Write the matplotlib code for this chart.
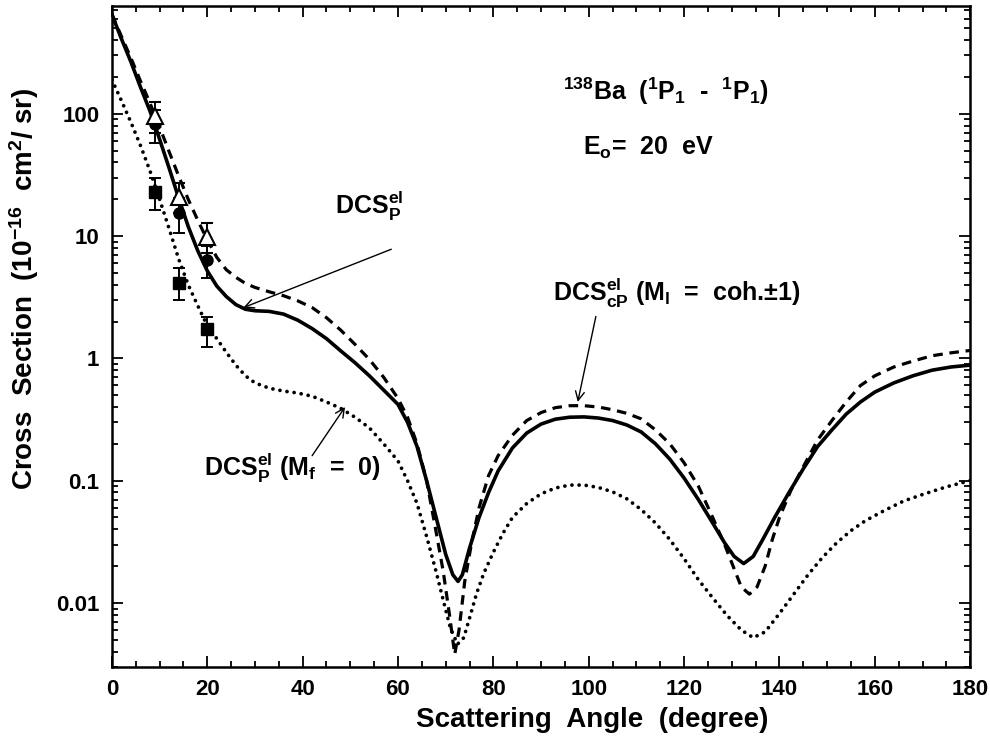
import matplotlib
matplotlib.use('Agg')
import matplotlib.pyplot as plt
from matplotlib.ticker import MultipleLocator, LogLocator, FixedLocator, NullFormatter

plt.rcParams['font.family'] = ['Liberation Sans', 'DejaVu Sans']
plt.rcParams['font.weight'] = 'bold'
plt.rcParams['mathtext.fontset'] = 'custom'
plt.rcParams['mathtext.rm'] = 'Liberation Sans:bold'
plt.rcParams['mathtext.it'] = 'Liberation Sans:bold'
plt.rcParams['mathtext.bf'] = 'Liberation Sans:bold'

# DCS_P^el (solid line)
solid_ang = [0, 2, 4, 6, 8, 10, 12, 14, 16, 18, 20, 22, 24, 26, 28, 30, 33, 36, 39, 42, 45, 48,
             51, 54, 57, 60, 62, 64, 66, 68, 70, 71.5, 72.6, 73.5, 75, 77, 79, 81, 84, 87, 90,
             93, 96, 99, 102, 105, 108, 111, 114, 117, 120, 123, 126, 128.5, 130.5, 132.5,
             134.5, 136.5, 139, 142, 145, 148, 151, 154, 157, 160, 164, 168, 172, 176, 180]
solid_val = [650, 410, 265, 165, 105, 62, 36, 20.5, 12, 7.6, 5.2, 3.9, 3.2, 2.75, 2.52, 2.45,
             2.42, 2.3, 2.05, 1.75, 1.45, 1.15, 0.92, 0.72, 0.55, 0.42, 0.3, 0.19, 0.1, 0.05,
             0.025, 0.017, 0.015, 0.017, 0.028, 0.05, 0.08, 0.12, 0.185, 0.245, 0.29, 0.318,
             0.33, 0.332, 0.325, 0.31, 0.285, 0.25, 0.2, 0.15, 0.105, 0.07, 0.045, 0.031, 0.024,
             0.021, 0.024, 0.033, 0.05, 0.08, 0.125, 0.19, 0.26, 0.35, 0.44, 0.53, 0.63, 0.72,
             0.8, 0.85, 0.88]

# DCS_cP^el (dashed line)
dash_ang = [0, 2, 4, 6, 8, 10, 12, 14, 16, 18, 20, 22, 24, 26, 28, 30, 33, 36, 39, 42, 45, 48,
            51, 54, 57, 60, 62, 64, 66, 68, 69.5, 70.8, 71.9, 72.8, 74, 75.5, 77, 79, 81, 84,
            87, 90, 93, 96, 99, 102, 105, 108, 111, 114, 117, 120, 123, 126, 128.5, 130.5, 132,
            133.7, 135.3, 137, 138.5, 140, 142.5, 145, 148, 151, 154, 157, 160, 164, 168, 172,
            176, 180]
dash_val = [650, 430, 285, 185, 122, 78, 49, 31, 20, 13.5, 9.3, 6.7, 5.3, 4.6, 4.1, 3.8, 3.5,
            3.25, 2.95, 2.6, 2.15, 1.7, 1.3, 0.98, 0.7, 0.47, 0.33, 0.2, 0.1, 0.038, 0.018,
            0.008, 0.0038, 0.006, 0.015, 0.032, 0.06, 0.11, 0.16, 0.235, 0.31, 0.36, 0.395,
            0.41, 0.41, 0.4, 0.38, 0.355, 0.32, 0.26, 0.2, 0.14, 0.09, 0.05, 0.03, 0.019,
            0.0135, 0.0118, 0.0135, 0.02, 0.033, 0.05, 0.085, 0.13, 0.215, 0.31, 0.44, 0.6,
            0.72, 0.85, 0.95, 1.05, 1.11, 1.16]

# DCS_P^el (M_f = 0) (dotted line)
dot_ang = [0, 2, 4, 6, 8, 10, 12, 14, 16, 18, 20, 22, 24, 26, 28, 30, 33, 36, 39, 42, 45, 48,
           51, 54, 57, 60, 62, 64, 66, 68, 69.5, 71, 72.5, 73.8, 75, 76.5, 78, 80, 82, 84, 87,
           90, 93, 96, 99, 102, 105, 108, 111, 114, 117, 120, 123, 126, 129, 132, 134.5, 137,
           140, 143, 146, 149, 152, 155, 158, 162, 166, 170, 175, 180]
dot_val = [190, 128, 85, 55, 34, 20, 11.5, 6.5, 4.0, 2.7, 1.85, 1.45, 1.12, 0.88, 0.72, 0.63,
           0.57, 0.54, 0.52, 0.49, 0.44, 0.39, 0.33, 0.27, 0.2, 0.145, 0.1, 0.065, 0.035, 0.018,
           0.0105, 0.0062, 0.0046, 0.0052, 0.0075, 0.012, 0.0175, 0.026, 0.037, 0.05, 0.065,
           0.078, 0.087, 0.092, 0.092, 0.088, 0.081, 0.071, 0.058, 0.045, 0.033, 0.023, 0.0155,
           0.011, 0.0079, 0.006, 0.0052, 0.0058, 0.0082, 0.0118, 0.017, 0.0235, 0.031, 0.039,
           0.047, 0.057, 0.068, 0.077, 0.089, 0.1]

# measured points
exp_ang = [9, 14, 20]
tri_val = [96, 21, 9.8]
tri_lo = [70, 15.5, 7.3]
tri_hi = [125, 27.2, 12.8]
circ_val = [83, 15.4, 6.4]
circ_lo = [58, 10.6, 4.5]
circ_hi = [108, 20.5, 8.3]
sq_val = [23, 4.1, 1.73]
sq_lo = [16.3, 2.98, 1.23]
sq_hi = [29.8, 5.47, 2.17]

fig = plt.figure(figsize=(9.9, 7.51), dpi=100)
ax = fig.add_axes([0.113, 0.112, 0.867, 0.880])

ax.plot(solid_ang, solid_val, color='black', lw=2.6, solid_joinstyle='round')
ax.plot(dash_ang, dash_val, color='black', lw=2.3, dashes=(3.0, 2.1))
ax.plot(dot_ang, dot_val, color='black', lw=2.7, linestyle=(0, (0.01, 1.9)),
        dash_capstyle='round')

def err(vals, lo, hi):
    return [[v - l for v, l in zip(vals, lo)], [h - v for v, h in zip(vals, hi)]]

ax.errorbar(exp_ang, circ_val, yerr=err(circ_val, circ_lo, circ_hi), fmt='o', color='black',
            ms=8, capsize=4, elinewidth=1.4, capthick=1.4, zorder=5)
ax.errorbar(exp_ang, tri_val, yerr=err(tri_val, tri_lo, tri_hi), fmt='^', color='black',
            mfc='white', mec='black', mew=1.5, ms=11, capsize=4, elinewidth=1.4,
            capthick=1.4, zorder=6)
ax.errorbar(exp_ang, sq_val, yerr=err(sq_val, sq_lo, sq_hi), fmt='s', color='black',
            ms=8, capsize=4, elinewidth=1.4, capthick=1.4, zorder=5)

ax.set_yscale('log')
ax.set_xlim(0, 180)
ax.set_ylim(0.003, 760)
ax.xaxis.set_major_locator(MultipleLocator(20))
ax.xaxis.set_minor_locator(MultipleLocator(5))
ax.yaxis.set_major_locator(FixedLocator([0.01, 0.1, 1, 10, 100]))
ax.yaxis.set_minor_locator(LogLocator(base=10, subs=range(2, 10), numticks=20))
ax.yaxis.set_minor_formatter(NullFormatter())
ax.set_yticklabels(['0.01', '0.1', '1', '10', '100'])
ax.tick_params(which='both', direction='in', top=True, right=True, labelsize=16, width=1.3)
ax.tick_params(which='major', length=8, pad=9)
ax.tick_params(which='minor', length=4)
for s in ax.spines.values():
    s.set_linewidth(1.8)

ax.set_xlabel('Scattering  Angle  (degree)', fontsize=20, fontweight='bold')
ax.set_ylabel(r'Cross  Section  (10$^{-16}$  cm$^2$/ sr)', fontsize=20, fontweight='bold')
ax.xaxis.set_label_coords(0.56, -0.06)
ax.yaxis.set_label_coords(-0.083, 0.573)

ax.text(94.6, 130, r'$^{138}$Ba  ($^1$P$_1$  -  $^1$P$_1$)', fontsize=18, ha='left',
        va='baseline')
ax.text(98.8, 46, r'E$_\mathrm{o}$=  20  eV', fontsize=18, ha='left', va='baseline')

ax.text(46.8, 15, r'DCS$_\mathrm{P}^\mathrm{el}$', fontsize=18, ha='left', va='baseline')
ax.text(92.5, 2.95, r'DCS$_\mathrm{cP}^\mathrm{el}$ (M$_\mathrm{l}$  =  coh.$\pm$1)',
        fontsize=18, ha='left', va='baseline')
ax.text(19.3, 0.11, r'DCS$_\mathrm{P}^\mathrm{el}$ (M$_\mathrm{f}$  =  0)', fontsize=18,
        ha='left', va='baseline')

arrow = dict(arrowstyle='->', color='black', lw=1.0, mutation_scale=16, shrinkA=0, shrinkB=0)
ax.annotate('', xy=(27.6, 2.6), xytext=(58.6, 7.8), arrowprops=arrow)
ax.annotate('', xy=(97.7, 0.44), xytext=(101.5, 2.2), arrowprops=arrow)
ax.annotate('', xy=(48.9, 0.40), xytext=(42, 0.16), arrowprops=arrow)

fig.savefig('out.png', dpi=100)
